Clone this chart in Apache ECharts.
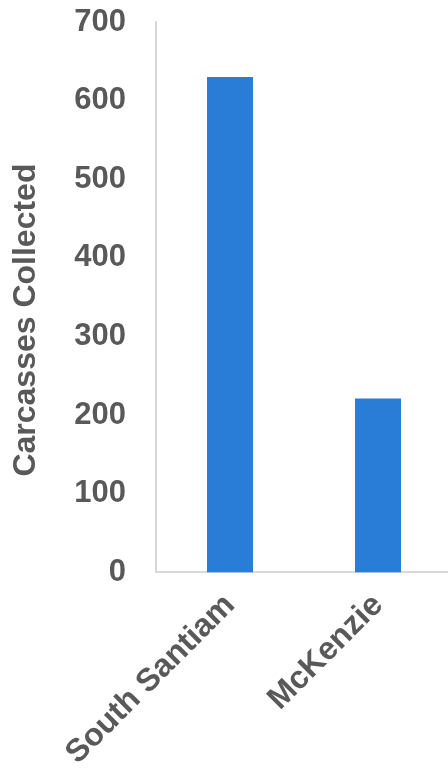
<!DOCTYPE html>
<html>
<head>
<meta charset="utf-8">
<script src="https://cdn.jsdelivr.net/npm/echarts@6/dist/echarts.min.js"></script>
<style>
  html, body { margin: 0; padding: 0; background: #fff; overflow: hidden; }
  #chart { width: 452px; height: 772px; }
</style>
</head>
<body>
<div id="chart"></div>
<script>
var categories = ['South Santiam', 'McKenzie']
var carcasses = [630, 221]

var textFont = 'Liberation Sans'
var chart = echarts.init(document.getElementById('chart'))
chart.setOption({
  animation: false,
  grid: { left: 156, right: 0, top: 22, bottom: 199 },
  xAxis: {
    type: 'category',
    data: categories,
    axisLine: { lineStyle: { color: '#d9d9d9', width: 2 } },
    axisTick: { show: false },
    axisLabel: {
      rotate: 45,
      margin: 28,
      color: '#595959',
      fontSize: 32,
      fontWeight: 'bold',
      fontFamily: textFont
    }
  },
  yAxis: {
    type: 'value',
    min: 0,
    max: 700,
    interval: 100,
    name: 'Carcasses Collected',
    nameLocation: 'middle',
    nameGap: 114,
    nameTextStyle: {
      color: '#595959', fontSize: 32, fontWeight: 'bold', fontFamily: textFont,
      padding: [0, 46, 0, 0]
    },
    axisLine: { show: true, lineStyle: { color: '#d9d9d9', width: 2 } },
    splitLine: { show: false },
    axisTick: { show: false },
    axisLabel: {
      margin: 30,
      color: '#595959',
      fontSize: 31,
      fontWeight: 'bold',
      fontFamily: textFont
    }
  },
  series: [{
    type: 'bar',
    data: carcasses,
    barWidth: 46,
    itemStyle: { color: '#2a7dd6' }
  }]
})
</script>
</body>
</html>
